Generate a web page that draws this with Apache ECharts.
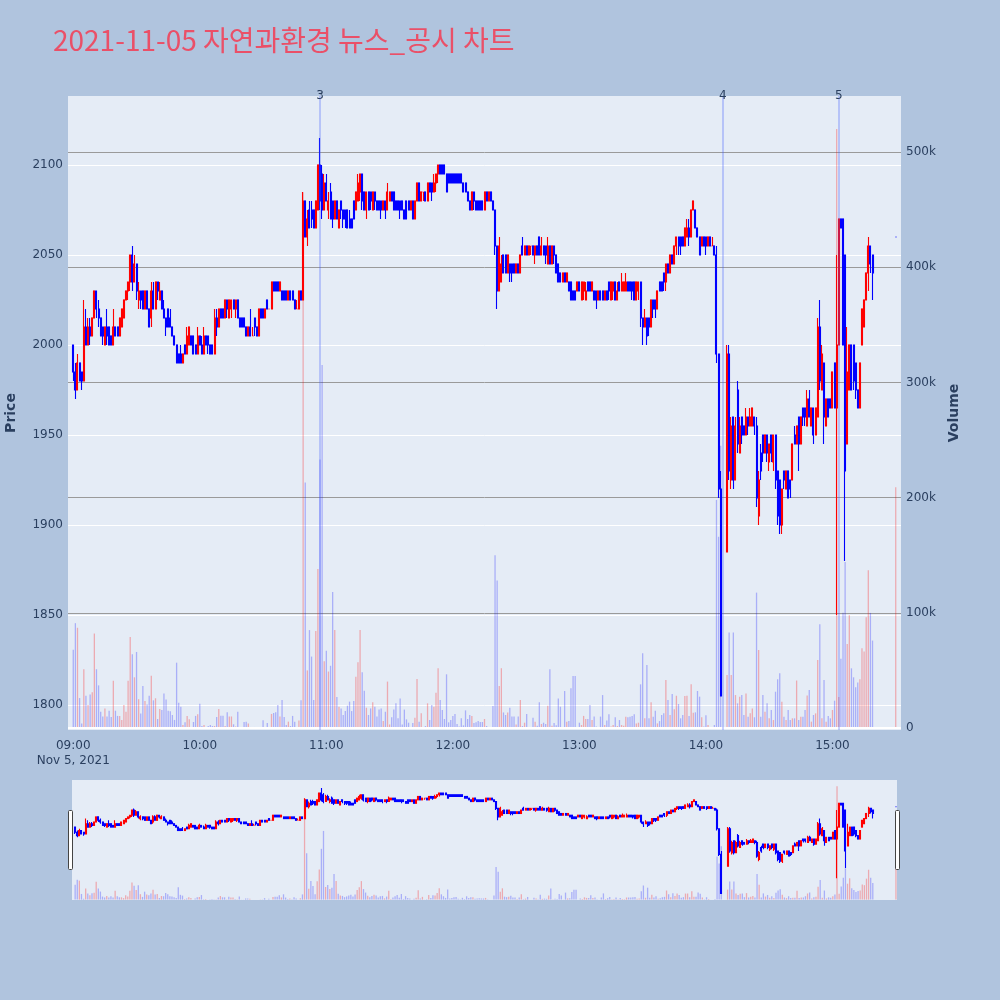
<!DOCTYPE html>
<html><head><meta charset="utf-8">
<script src="https://cdn.jsdelivr.net/npm/echarts@6/dist/echarts.min.js"></script>
<style>html,body{margin:0;padding:0;background:#b0c4de}#c{width:1000px;height:1000px}</style>
</head><body><div id="c"></div><script>
// minute index 0 = 09:00, 390 = 15:30 ; null = no trade
const openP = [
2000,1985,1975,1990,1985,1980,2010,2000,2010,2005,
2015,2030,2020,2015,2010,2000,2010,2010,2005,2000,
2010,2010,2005,2010,2015,2025,2030,2035,2050,2035,
2045,2025,2030,2030,2020,2030,2020,2015,2030,2020,
2035,2025,2030,2020,2015,2020,2015,2010,2005,2000,
1995,1995,1990,2000,1995,2000,2005,2005,2000,1995,
2005,2000,1995,2005,2005,2000,2000,1995,2015,2010,
2020,2020,2015,2025,2015,2020,2025,2020,2025,2015,
2015,2015,2010,2005,2010,2005,2015,2010,2005,2020,
2020,2015,2025,2020,2020,2035,2035,2035,2030,2030,
2030,2030,2025,2030,2030,2025,2020,2020,2030,2025,
2080,2060,2075,2075,2075,2065,2075,2100,2095,2075,
2090,2075,2085,2080,2070,2080,2065,2080,2075,2075,
2075,2070,2070,2080,2075,2080,2085,2095,2085,2075,
2085,2085,2075,2085,2080,2080,2080,2075,2080,2075,
2080,2085,2085,2080,2080,2080,2080,2075,2080,2080,
2075,2080,2070,2080,2090,2080,2085,2085,2080,2090,
2090,2085,2090,2095,2100,2100,2100,2095,2095,2095,
2095,2095,2095,2095,2095,2090,2090,2085,2080,2075,
2085,2080,2080,2080,2080,2075,2085,2080,2085,2080,
2075,2055,2030,2035,2050,2050,2040,2045,2045,2045,
2040,2045,2040,2055,2050,2055,2050,2055,2055,2050,
2055,2060,2050,2055,2055,2045,2055,2045,2055,2050,
2045,2040,2035,2040,2035,2035,2035,2030,2030,2030,
2035,2025,2030,2025,2035,2035,2030,2030,2030,2025,
2030,2030,2025,2030,2035,2025,2030,2035,2025,2035,
2030,2030,2030,2035,2035,2035,2035,2025,2030,2035,
2015,2010,2015,2015,2010,2025,2025,2020,2035,2035,
2040,2035,2045,2040,2050,2045,2055,2060,2060,2060,
2055,2060,2065,2060,2075,2075,2065,2060,2055,2060,
2060,2055,2060,2055,2055,2050,1995,1920,null,null,
1885,1995,1925,1960,1925,1975,1940,1960,1955,1950,
1960,1955,1955,1960,1955,1905,1940,1950,1940,1950,
1935,1950,1935,1950,1930,1925,1900,1930,1920,1930,
1925,1925,1950,1945,1960,1945,1965,1965,1955,1970,
1955,1965,1950,1960,2010,1975,1990,1955,1970,1970,
1965,1990,1965,2000,2070,2070,2050,1945,1975,2000,
2000,1990,1975,1965,2000,2010,2025,2040,2055,2050,
null,null,null,null,null,null,null,null,null,null,
2060];
const highP = [
2000,1990,1995,1990,1985,2025,2020,2015,2015,2015,
2030,2030,2025,2015,2010,2010,2020,2010,2005,2020,
2010,2010,2015,2020,2025,2030,2035,2050,2055,2050,
2045,2035,2030,2030,2030,2030,2020,2035,2035,2035,
2035,2035,2030,2025,2015,2020,2020,2010,2005,2000,
1995,2000,1995,2000,2010,2010,2005,2005,2000,2010,
2005,2005,2010,2005,2005,2000,2000,2020,2020,2020,
2020,2020,2025,2025,2025,2025,2025,2025,2025,2015,
2015,2015,2010,2010,2020,2010,2015,2010,2020,2020,
2020,2020,2025,2020,2035,2035,2035,2035,2035,2030,
2030,2030,2030,2030,2030,2025,2025,2030,2030,2085,
2080,2075,2080,2080,2075,2080,2100,2115,2100,2095,
2095,2085,2090,2080,2080,2080,2075,2080,2075,2075,
2075,2075,2070,2080,2085,2095,2095,2095,2085,2085,
2085,2085,2085,2085,2080,2080,2080,2080,2080,2090,
2085,2085,2085,2080,2080,2080,2080,2075,2080,2080,
2080,2080,2080,2090,2090,2085,2085,2085,2090,2090,
2090,2095,2095,2100,2100,2100,2100,2095,2095,2095,
2095,2095,2095,2095,2095,2090,2090,2085,2080,2085,
2085,2080,2080,2080,2080,2085,2085,2085,2085,2080,
2075,2055,2060,2050,2050,2050,2050,2045,2045,2045,
2045,2045,2050,2060,2055,2055,2055,2055,2055,2055,
2055,2060,2060,2055,2055,2060,2055,2055,2055,2050,
2045,2040,2040,2040,2040,2035,2035,2030,2030,2035,
2035,2035,2035,2035,2035,2035,2035,2030,2030,2030,
2030,2030,2030,2030,2035,2035,2035,2035,2035,2035,
2040,2035,2040,2035,2035,2035,2035,2035,2035,2035,
2015,2020,2015,2015,2025,2025,2025,2030,2035,2035,
2040,2045,2045,2050,2050,2055,2060,2060,2060,2060,
2065,2070,2070,2075,2080,2075,2065,2060,2060,2060,
2060,2060,2060,2060,2055,2055,1995,1930,null,null,
2000,2000,1960,1960,1960,1980,1960,1960,1955,1965,
1960,1965,1965,1960,1960,1930,1945,1950,1950,1950,
1945,1950,1950,1950,1930,1925,1920,1930,1930,1930,
1925,1945,1955,1955,1960,1960,1965,1965,1975,1975,
1965,1965,1965,2015,2025,2000,1990,1970,1970,1970,
1985,1990,2050,2070,2070,2070,2050,2010,2000,2000,
2000,1990,1975,1990,2020,2025,2040,2060,2055,2050,
null,null,null,null,null,null,null,null,null,null,
2060];
const lowP = [
1980,1970,1975,1980,1975,1980,2000,2000,2000,2005,
2015,2015,2010,2005,2000,2000,2000,2000,2000,2000,
2005,2005,2005,2010,2015,2025,2025,2030,2030,2035,
2025,2020,2020,2020,2020,2020,2010,2010,2020,2020,
2025,2025,2020,2015,2005,2010,2010,2005,2000,1990,
1990,1990,1990,1995,1995,2000,2000,1995,1995,1995,
2000,1995,1995,2000,1995,1995,1995,1995,2005,2010,
2015,2015,2015,2015,2015,2015,2020,2015,2015,2010,
2010,2010,2005,2005,2005,2005,2005,2005,2005,2015,
2015,2015,2020,2020,2020,2030,2030,2030,2030,2025,
2025,2025,2025,2025,2025,2020,2020,2020,2025,2025,
2060,2055,2065,2065,2065,2065,2075,2075,2070,2075,
2080,2070,2070,2065,2070,2070,2065,2070,2065,2065,
2065,2065,2065,2070,2075,2080,2080,2075,2075,2070,
2075,2075,2075,2075,2075,2075,2070,2075,2070,2075,
2080,2080,2075,2075,2075,2070,2075,2070,2070,2075,
2075,2070,2070,2080,2080,2080,2080,2080,2080,2085,
2080,2085,2085,2090,2095,2095,2095,2085,2090,2090,
2090,2090,2090,2090,2090,2085,2085,2080,2075,2075,
2075,2075,2075,2075,2075,2075,2080,2080,2080,2075,
2050,2020,2030,2035,2040,2040,2040,2035,2035,2040,
2040,2040,2040,2050,2050,2050,2050,2050,2050,2045,
2050,2050,2050,2050,2045,2045,2045,2045,2045,2040,
2035,2035,2035,2035,2035,2030,2025,2025,2025,2030,
2030,2025,2025,2025,2030,2030,2030,2025,2020,2025,
2025,2025,2025,2025,2025,2025,2025,2025,2025,2030,
2030,2030,2030,2030,2030,2025,2025,2025,2025,2010,
2000,2010,2000,2005,2010,2015,2015,2020,2030,2030,
2030,2030,2040,2040,2045,2045,2050,2050,2050,2055,
2055,2060,2055,2060,2075,2065,2060,2050,2055,2055,
2050,2055,2055,2055,2050,1990,1915,1805,null,null,
1885,1925,1920,1920,1925,1940,1940,1945,1950,1950,
1950,1955,1955,1950,1910,1900,1925,1935,1940,1935,
1930,1935,1930,1920,1900,1895,1895,1920,1920,1915,
1915,1925,1945,1945,1930,1945,1955,1955,1955,1960,
1955,1945,1950,1960,1975,1975,1945,1955,1960,1965,
1965,1965,1850,2000,2065,2000,1880,1945,1975,1975,
1975,1970,1965,1965,2000,2010,2025,2030,2040,2025,
null,null,null,null,null,null,null,null,null,null,
2060];
const closeP = [
1985,1975,1990,1980,1980,2010,2000,2010,2005,2015,
2030,2020,2015,2005,2005,2010,2005,2000,2000,2010,
2005,2005,2015,2020,2025,2030,2035,2050,2035,2045,
2030,2030,2025,2020,2030,2020,2010,2030,2020,2035,
2030,2030,2020,2015,2010,2010,2010,2005,2000,1990,
1990,1990,1995,1995,2005,2010,2000,1995,1995,2005,
2000,1995,2005,2000,2000,1995,1995,2015,2010,2020,
2015,2015,2025,2020,2025,2025,2020,2025,2015,2010,
2010,2010,2005,2010,2005,2005,2010,2005,2020,2015,
2015,2020,2020,2020,2035,2030,2030,2030,2035,2025,
2025,2025,2030,2025,2025,2020,2020,2030,2025,2080,
2060,2070,2065,2070,2065,2080,2100,2080,2075,2090,
2080,2080,2070,2070,2080,2070,2075,2075,2070,2070,
2065,2065,2065,2070,2085,2090,2095,2080,2075,2085,
2075,2080,2085,2080,2075,2075,2075,2080,2075,2085,
2085,2080,2075,2075,2075,2075,2075,2070,2070,2075,
2080,2070,2080,2090,2080,2085,2085,2080,2090,2085,
2085,2090,2095,2100,2095,2095,2095,2085,2090,2090,
2090,2090,2090,2090,2090,2085,2085,2080,2075,2085,
2080,2075,2075,2075,2075,2085,2080,2085,2080,2075,
2055,2030,2055,2045,2040,2040,2050,2040,2040,2040,
2045,2040,2050,2050,2055,2050,2055,2055,2050,2055,
2050,2050,2055,2050,2050,2055,2045,2055,2050,2040,
2035,2035,2040,2035,2040,2030,2025,2025,2025,2035,
2030,2035,2035,2030,2030,2030,2035,2025,2025,2030,
2025,2025,2030,2025,2030,2035,2035,2025,2030,2030,
2035,2035,2035,2030,2030,2030,2025,2035,2035,2015,
2010,2015,2005,2010,2025,2020,2020,2030,2030,2030,
2035,2045,2040,2050,2045,2055,2060,2055,2055,2055,
2065,2065,2060,2075,2080,2065,2060,2050,2060,2055,
2055,2060,2055,2055,2050,1995,1920,1805,null,null,
1995,1930,1955,1925,1955,1945,1955,1950,1950,1960,
1955,1960,1965,1955,1915,1925,1930,1940,1950,1940,
1945,1940,1950,1925,1905,1900,1920,1925,1930,1915,
1920,1945,1945,1955,1945,1960,1960,1960,1970,1960,
1965,1950,1965,2010,1980,1995,1960,1970,1960,1965,
1985,1965,2000,2070,2065,2000,1930,1985,2000,1975,
1980,1975,1965,1990,2020,2025,2040,2055,2045,2040,
null,null,null,null,null,null,null,null,null,null,
2060];
// volume in thousands of shares
const volumeK = [
68,91,87,26,4,51,28,20,29,31,
82,51,37,14,10,17,10,15,9.5,41,
15,10.5,10.5,7,20,14,41,79,64,44,
66,25,12.5,36.5,23.4,20.5,28,45.4,24,25.8,
7.8,16.5,15.6,30,24.8,15,14.5,11.3,7,56.7,
22,18.5,2.6,5,10.5,7.6,0.6,5.2,10.5,12,
21,1.7,2.6,0.4,1.7,2.6,1.7,1.7,9.5,16.5,
10.7,10.7,1.7,13.6,10,10,3.2,1.2,14,0.4,
0.4,5.2,5.5,4,0.9,0.4,0.9,0.4,0.9,0.9,
6.7,0.4,4.3,0.4,12.2,13,13.6,20,10,24.4,
9.5,2.6,5.5,1.7,10.5,5.5,0.4,6.4,24,465,
213,50,85,62,24.4,84.2,138,233,315,58,
67,49,54,118,85,27,18.5,17,11.3,14.7,
19.4,22.9,14.7,23.4,44.5,57,85,48.4,32.4,17.6,
11.3,17,22.3,18.5,9.9,16,17,6,14.1,40.3,
3.1,9.3,16,21.4,8.4,25.7,3.1,16,7.5,4.6,
0.6,4.3,9,42.6,5.5,12.7,0.4,1.7,21.4,7,
20,18.5,30.7,51.9,24.3,15.6,7.8,46.6,4.9,7,
10.5,12.2,3.5,1.2,8.4,2.3,15.3,7.8,11.3,10.5,
4.3,4.9,6,5.2,5.2,7.8,1.7,0.4,0.6,19.1,
150,128,36.5,51.9,13.5,11.3,13.5,17.6,9.9,9.9,
3.1,9.9,24.3,1.7,4.6,12.2,0.4,0.4,9,5.5,
2,22.3,3.5,4.6,3.5,19.4,51,2,4.3,2.3,
25.7,18.5,0.4,32.1,5.5,6,34.4,45.1,45.1,0.6,
4.6,2.6,10.5,7.8,7.8,20,7,9.9,1.2,0.4,
9.9,28.6,2.6,6.5,12,1.2,2.6,9.3,1.7,6.9,
2.6,2,9.8,9.3,9.8,10.4,11.9,4,4.6,37.9,
64.8,8.4,54.7,8.4,22.3,9.8,15,4,6,11.3,
12.7,41.7,24.4,11.3,29.5,16.2,28,20.8,8.4,11.3,
27.8,28,10.4,37.9,13.3,13.6,32.1,27.2,9.3,1.2,
11,2.6,0.6,0.4,2.6,198,166,245,null,null,
46,82.8,46,82.8,28.6,21.4,27.2,28.6,11.3,30,
9.8,12.7,17,9.3,117.5,67.7,9.8,28.6,14.1,21.4,
8.4,15.6,6.9,31.5,42.3,47.5,22.8,9.8,6.9,15.6,
6.9,8.4,8.4,41.2,6.9,9.8,9.8,15.6,28.1,33,
5.5,11.3,12.7,59,90,8.4,41.7,5.5,10.4,8.4,
15.6,23.7,520,27,60,100,144,73,97.8,51.8,
44,35.3,39.4,42.3,69.2,66.3,96.2,137,99.9,75.9,
null,null,null,null,null,null,null,null,null,null,
209];
const priceTicks = [1800, 1850, 1900, 1950, 2000, 2050, 2100];
const volumeTicksK = [0, 100, 200, 300, 400, 500];
const newsMarks = [{time: '10:57', label: '3'}, {time: '14:08', label: '4'}, {time: '15:03', label: '5'}];
const titleText = '2021-11-05 자연과환경 뉴스_공시 차트';

const UP = '#ff0000', DN = '#0000ff';
const UPV = 'rgba(255,0,0,0.28)', DNV = 'rgba(0,0,255,0.26)';
const FONT = 'DejaVu Sans';
const AXC = '#2a3f5f';

function hhmm(m) { const t = 540 + m; const h = Math.floor(t / 60), mm = ((t % 60) + 60) % 60;
  return String(h).padStart(2, '0') + ':' + String(mm).padStart(2, '0'); }
function build(from, to) {
  const cats = [], candles = [], vols = [];
  for (let m = from; m <= to; m++) {
    cats.push(hhmm(m));
    const ok = m >= 0 && m < openP.length && openP[m] != null;
    if (ok) {
      candles.push([openP[m], closeP[m], lowP[m], highP[m]]);
      const up = closeP[m] >= openP[m];
      vols.push({value: volumeK[m], itemStyle: {color: up ? UPV : DNV}});
    } else { candles.push(['-', '-', '-', '-']); vols.push('-'); }
  }
  return {cats, candles, vols};
}
const main = build(-2, 392);
const mini = build(-1, 390);
const PMIN = 1786.1, PMAX = 2138.3, VMIN = -1.74, VMAX = 548.6;

const chart = echarts.init(document.getElementById('c'), null, {renderer: 'canvas'});
chart.setOption({
  animation: false,
  backgroundColor: '#b0c4de',
  title: {text: titleText, left: 48, top: 21,
    textStyle: {color: '#EA5068', fontSize: 28, fontWeight: 'normal', fontFamily: '"Noto Sans CJK KR", sans-serif'}},
  grid: [
    {left: 68, top: 96, width: 833, height: 634, show: true, backgroundColor: '#e5ecf6', borderWidth: 0, outerBoundsMode: 'none', containLabel: false},
    {left: 72, top: 780, width: 825, height: 120, show: true, backgroundColor: '#e5ecf6', borderWidth: 0, outerBoundsMode: 'none', containLabel: false}
  ],
  xAxis: [
    {type: 'category', gridIndex: 0, data: main.cats, boundaryGap: true,
      axisLine: {show: false}, axisTick: {show: false}, splitLine: {show: false},
      axisLabel: {color: AXC, fontFamily: FONT, fontSize: 12, margin: 8, lineHeight: 15,
        interval: (i, v) => { const m = i - 2; return m >= 0 && m <= 360 && m % 60 === 0; },
        formatter: v => v === '09:00' ? '09:00\nNov 5, 2021' : v}},
    {type: 'category', gridIndex: 1, data: mini.cats, boundaryGap: true, show: false}
  ],
  yAxis: [
    {type: 'value', gridIndex: 0, position: 'left', min: PMIN, max: PMAX, minInterval: 50, maxInterval: 50, splitNumber: 7,
      axisLine: {show: false}, axisTick: {show: false},
      axisLabel: {color: AXC, fontFamily: FONT, fontSize: 12, margin: 5, showMinLabel: false, showMaxLabel: false,
        formatter: v => priceTicks.includes(v) ? String(v) : ''},
      splitLine: {show: true, showMinLine: false, showMaxLine: false, lineStyle: {color: '#ffffff', width: 1}},
      name: 'Price', nameLocation: 'middle', nameGap: 50, nameRotate: 90,
      nameTextStyle: {color: AXC, fontFamily: FONT, fontSize: 14, fontWeight: 'bold'}},
    {type: 'value', gridIndex: 0, position: 'right', min: VMIN, max: VMAX, minInterval: 100, maxInterval: 100, splitNumber: 5,
      axisLine: {show: false}, axisTick: {show: false},
      axisLabel: {color: AXC, fontFamily: FONT, fontSize: 12, margin: 5, showMinLabel: false, showMaxLabel: false,
        formatter: v => volumeTicksK.includes(v) ? (v === 0 ? '0' : v + 'k') : ''},
      splitLine: {show: true, showMinLine: false, showMaxLine: false, lineStyle: {color: '#9a9a9a', width: 1}},
      name: 'Volume', nameLocation: 'middle', nameGap: 46, nameRotate: 90,
      nameTextStyle: {color: AXC, fontFamily: FONT, fontSize: 14, fontWeight: 'bold'}},
    {type: 'value', gridIndex: 1, min: PMIN, max: PMAX, show: false, splitLine: {show: false}},
    {type: 'value', gridIndex: 1, min: VMIN, max: VMAX, show: false, splitLine: {show: false}}
  ],
  series: [
    {type: 'bar', xAxisIndex: 0, yAxisIndex: 1, data: main.vols, barWidth: 1.3, silent: true, z: 2,
      markLine: {symbol: 'none', silent: true, animation: false,
        data: [{yAxis: 0, lineStyle: {color: '#ffffff', width: 2, type: 'solid'}, label: {show: false}}]
          .concat(newsMarks.map(n => ({xAxis: n.time, label: {show: true, formatter: n.label}}))),
        lineStyle: {color: 'rgba(60,90,255,0.28)', width: 2, type: 'solid'},
        label: {show: true, position: 'end', distance: -6, color: AXC, fontSize: 12, fontFamily: FONT}}},
    {type: 'candlestick', xAxisIndex: 0, yAxisIndex: 0, data: main.candles, barWidth: 1.5, z: 3, silent: true,
      itemStyle: {color: UP, color0: DN, borderColor: UP, borderColor0: DN, borderWidth: 1.1}},
    {type: 'bar', xAxisIndex: 1, yAxisIndex: 3, data: mini.vols, barWidth: 1.3, silent: true, z: 2},
    {type: 'candlestick', xAxisIndex: 1, yAxisIndex: 2, data: mini.candles, barWidth: 1.5, z: 3, silent: true,
      itemStyle: {color: UP, color0: DN, borderColor: UP, borderColor0: DN, borderWidth: 1.1}}
  ],
  graphic: [
    {type: 'rect', shape: {x: 68.5, y: 810.5, width: 4, height: 59, r: 1}, style: {fill: '#ffffff', stroke: '#444', lineWidth: 1}, z: 10},
    {type: 'rect', shape: {x: 895.5, y: 810.5, width: 4, height: 59, r: 1}, style: {fill: '#ffffff', stroke: '#444', lineWidth: 1}, z: 10}
  ]
});
</script></body></html>
